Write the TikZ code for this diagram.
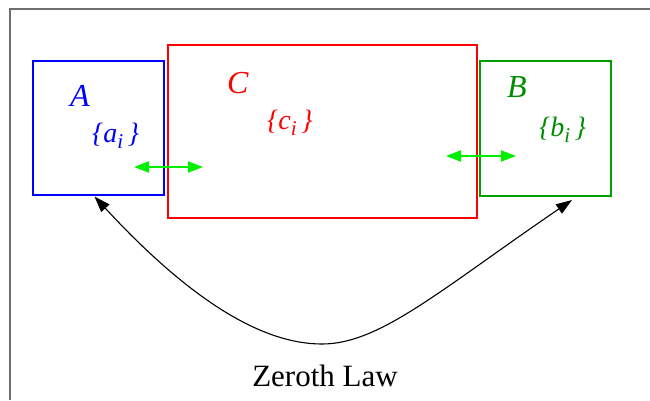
\documentclass[tikz,border=0pt]{standalone}
\usepackage{fontspec}
\setmainfont{Liberation Serif}
\usetikzlibrary{arrows.meta}
\definecolor{bgreen}{RGB}{0,160,0}
\definecolor{tgreen}{RGB}{0,140,0}
\definecolor{lgreen}{RGB}{0,240,0}
\definecolor{framegray}{RGB}{110,110,110}
\newcommand{\subi}{\raisebox{-6pt}{\fontsize{21}{21}\selectfont\itshape i}}
\tikzset{
  sysbox/.style={draw, line width=1.1pt, inner sep=0pt, outer sep=0pt},
  biglabel/.style={anchor=base west, inner sep=0pt, font=\fontsize{32}{34}\selectfont\itshape},
  setlabel/.style={anchor=base west, inner sep=0pt, font=\fontsize{28}{30}\selectfont\itshape},
  contact/.style={lgreen, line width=2.2pt, {Triangle[length=15pt,width=11pt]}-{Triangle[length=15pt,width=11pt]}},
  law/.style={black, line width=1.1pt, {Triangle[length=16pt,width=11pt]}-{Triangle[length=16pt,width=11pt]}}
}
\begin{document}
\begin{tikzpicture}[x=1pt,y=-1pt]
\useasboundingbox (0,0) rectangle (650,400);
% frame (cropped)
\draw[framegray, line width=1.5pt] (10,400) -- (10,9) -- (650,9);
% boxes
\node[sysbox, blue, minimum width=131pt, minimum height=134pt] (A) at (98.5,128) {};
\node[sysbox, red, minimum width=309pt, minimum height=173pt] (C) at (322.5,131.5) {};
\node[sysbox, bgreen, minimum width=131pt, minimum height=135pt] (B) at (545.5,128.5) {};
% labels
\node[biglabel, blue] (lA) at (70,106) {A};
\node[setlabel, blue] (sA) at (92,142) {\{a\subi\,\}};
\node[biglabel, red] (lC) at (227,93) {C};
\node[setlabel, red] (sC) at (267,129) {\{c\subi\,\}};
\node[biglabel, tgreen] (lB) at (507,97) {B};
\node[setlabel, tgreen] (sB) at (539,136) {\{b\subi\,\}};
% contacts
\coordinate (ga1) at (134,167);
\coordinate (ga2) at (203,167);
\coordinate (gb1) at (446,156);
\coordinate (gb2) at (516,156);
\draw[contact] (ga1) -- (ga2);
\draw[contact] (gb1) -- (gb2);
% zeroth law curve
\coordinate (ta) at (94.5,196.5);
\coordinate (bot) at (322,344);
\coordinate (tb) at (572,200);
\draw[law] (ta) .. controls (190,300) and (262,344) .. (bot) .. controls (380,344) and (440,290) .. (tb);
\node[inner sep=0pt, anchor=base, font=\fontsize{31}{34}\selectfont] (zl) at (325,386) {Zeroth Law};
\end{tikzpicture}
\end{document}
